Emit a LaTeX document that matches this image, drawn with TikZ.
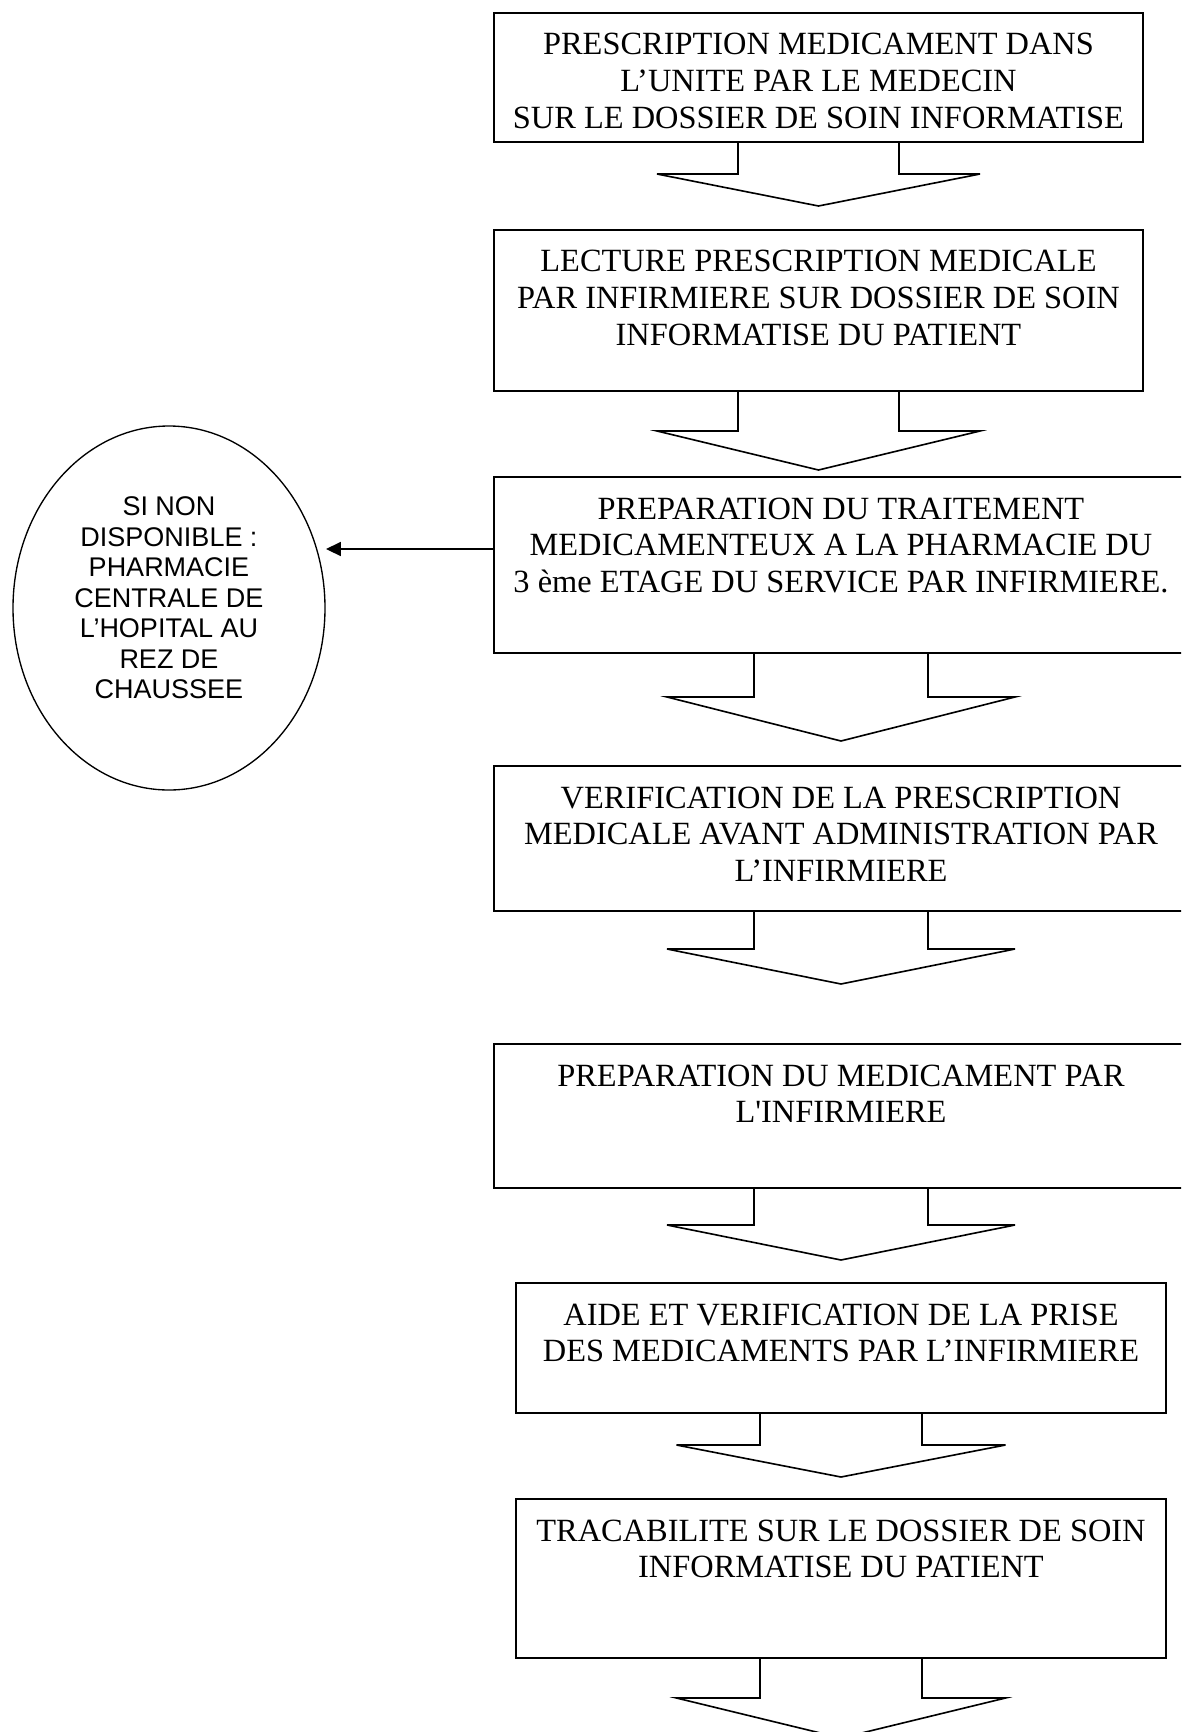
\documentclass[tikz,border=0pt]{standalone}
\usepackage{fontspec}
\setmainfont{Liberation Serif}
\setsansfont{Liberation Sans}
\usetikzlibrary{positioning,shapes.geometric,arrows.meta}
\newlength\px
\setlength\px{0.3704pt}

\tikzset{
  etape/.style={draw, line width=0.6pt, rectangle, inner sep=0pt, outer sep=0pt},
  texte/.style={align=center, inner sep=0pt, font=\rmfamily\fontsize{12}{13.7}\selectfont},
  note/.style={draw, line width=0.5pt, ellipse, inner sep=0pt, outer sep=0pt, minimum width=312\px, minimum height=364\px},
  textenote/.style={align=center, inner sep=0pt, font=\sffamily\fontsize{10}{11.3}\selectfont},
  bloc/.style={line width=0.6pt},
  fleche/.style={line width=0.5pt, -{Triangle[length=5.5pt,width=5.2pt]}}
}

\begin{document}
\begin{tikzpicture}[x=\px,y=-\px,node distance=88\px]
  \useasboundingbox (0,0) rectangle (1181,1732);
  \clip (0,0) rectangle (1181,1732);
  % \draw[help lines] (0,0) grid (1181,1732);
  \node[etape, minimum width=649\px, minimum height=129\px] (b1) at (818.5,77.5) {};
  \node[etape, minimum width=649\px, minimum height=161\px] (b2) [below=88\px of b1] {};
  \node[etape, minimum width=694\px, minimum height=176\px] (b3) [below=86\px of b2.south west, anchor=north west] {};
  \node[etape, minimum width=694\px, minimum height=145\px] (b4) [below=113\px of b3] {};
  \node[etape, minimum width=694\px, minimum height=144\px] (b5) [below=133\px of b4] {};
  \node[etape, minimum width=650\px, minimum height=130\px] (b6) [below=95\px of b5] {};
  \node[etape, minimum width=650\px, minimum height=159\px] (b7) [below=86\px of b6] {};

  \node[texte] (t1) [below=20\px of b1.north] {PRESCRIPTION MEDICAMENT DANS\\ L’UNITE PAR LE MEDECIN\\ SUR LE DOSSIER DE SOIN INFORMATISE};
  \node[texte] (t2) [below=20\px of b2.north] {LECTURE PRESCRIPTION MEDICALE\\ PAR INFIRMIERE SUR DOSSIER DE SOIN\\ INFORMATISE DU PATIENT};
  \node[texte] (t3) [below=20\px of b3.north] {PREPARATION DU TRAITEMENT\\ MEDICAMENTEUX A LA PHARMACIE DU\\ 3 ème ETAGE DU SERVICE PAR INFIRMIERE.};
  \node[texte] (t4) [below=20\px of b4.north] {VERIFICATION DE LA PRESCRIPTION\\ MEDICALE AVANT ADMINISTRATION PAR\\ L’INFIRMIERE};
  \node[texte] (t5) [below=20\px of b5.north] {PREPARATION DU MEDICAMENT PAR\\ L\textquotesingle INFIRMIERE};
  \node[texte] (t6) [below=20\px of b6.north] {AIDE ET VERIFICATION DE LA PRISE\\ DES MEDICAMENTS PAR L’INFIRMIERE};
  \node[texte] (t7) [below=20\px of b7.north] {TRACABILITE SUR LE DOSSIER DE SOIN\\ INFORMATISE DU PATIENT};

  \node[note] (dispo) at (169,608) {};
  \node[textenote] (tdispo) at ([yshift=10\px]dispo.center) {SI NON\\ DISPONIBLE :\\ PHARMACIE\\ CENTRALE DE\\ L’HOPITAL AU\\ REZ DE\\ CHAUSSEE};
  \coordinate (pointe) at (326,549);
  \draw[fleche] (b3.west |- pointe) -- (pointe);

  \draw[bloc] (b1.south) ++(-80.5,0) -- ++(0,32) -- ++(-81,0) -- ++(161.5,32) -- ++(161.5,-32) -- ++(-81,0) -- ++(0,-32);
  \draw[bloc] (b2.south) ++(-80.5,0) -- ++(0,40) -- ++(-81,0) -- ++(161.5,39) -- ++(161.5,-39) -- ++(-81,0) -- ++(0,-40);
  \draw[bloc] (b3.south) ++(-87,0) -- ++(0,44) -- ++(-87,0) -- ++(174,44) -- ++(174,-44) -- ++(-87,0) -- ++(0,-44);
  \draw[bloc] (b4.south) ++(-87,0) -- ++(0,38) -- ++(-87,0) -- ++(174,35) -- ++(174,-35) -- ++(-87,0) -- ++(0,-38);
  \draw[bloc] (b5.south) ++(-87,0) -- ++(0,37) -- ++(-87,0) -- ++(174,35) -- ++(174,-35) -- ++(-87,0) -- ++(0,-37);
  \draw[bloc] (b6.south) ++(-81,0) -- ++(0,32) -- ++(-83.5,0) -- ++(164.5,32) -- ++(164.5,-32) -- ++(-83.5,0) -- ++(0,-32);
  \draw[bloc] (b7.south) ++(-81,0) -- ++(0,40) -- ++(-83.5,0) -- ++(164.5,40) -- ++(164.5,-40) -- ++(-83.5,0) -- ++(0,-40);
\end{tikzpicture}
\end{document}
